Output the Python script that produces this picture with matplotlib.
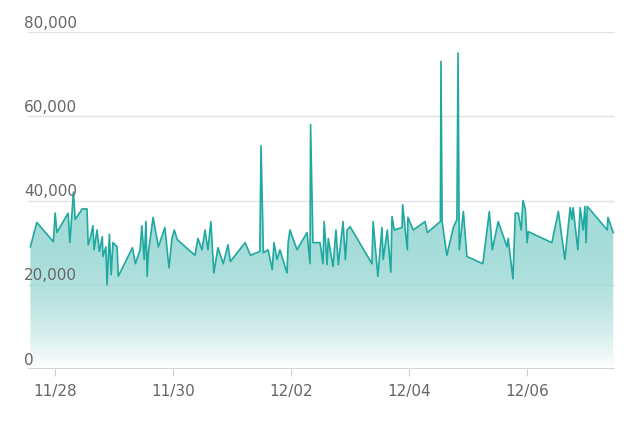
import matplotlib
matplotlib.use('Agg')
import matplotlib.pyplot as plt
import matplotlib.transforms as mtransforms
from matplotlib.patches import Polygon
import numpy as np

# days since 11/28 00:00, values
days = [-0.42, -0.31, -0.03, 0.00, 0.03, 0.22, 0.25, 0.31, 0.34, 0.46, 0.54, 0.56, 0.59, 0.64,
        0.66, 0.71, 0.75, 0.80, 0.81, 0.86, 0.88, 0.92, 0.95, 0.98, 1.05, 1.07, 1.31, 1.36,
        1.44, 1.47, 1.51, 1.54, 1.56, 1.58, 1.66, 1.75, 1.86, 1.93, 1.98, 2.02, 2.07, 2.37,
        2.42, 2.49, 2.54, 2.59, 2.64, 2.69, 2.76, 2.85, 2.93, 2.97, 3.22, 3.31, 3.47, 3.49,
        3.53, 3.61, 3.68, 3.71, 3.76, 3.81, 3.93, 3.95, 3.98, 4.10, 4.27, 4.32, 4.33, 4.37,
        4.49, 4.54, 4.56, 4.61, 4.63, 4.71, 4.76, 4.80, 4.86, 4.88, 4.92, 4.95, 5.00, 5.37,
        5.39, 5.47, 5.54, 5.56, 5.63, 5.69, 5.71, 5.75, 5.88, 5.89, 5.93, 5.97, 5.98, 6.07,
        6.27, 6.31, 6.53, 6.54, 6.56, 6.64, 6.75, 6.81, 6.83, 6.85, 6.92, 6.98, 7.25, 7.36,
        7.41, 7.51, 7.66, 7.68, 7.76, 7.80, 7.85, 7.90, 7.93, 7.97, 8.00, 8.02, 8.42, 8.53,
        8.64, 8.73, 8.76, 8.78, 8.86, 8.90, 8.95, 8.98, 9.00, 9.02, 9.36, 9.37, 9.46]
values = [29.0, 34.8, 30.2, 37.0, 32.4, 37.0, 30.0, 42.0, 35.5, 38.0, 38.0, 29.5, 30.7, 34.0,
          28.3, 33.0, 27.9, 31.4, 26.7, 29.0, 20.0, 32.0, 22.4, 30.0, 29.0, 22.0, 28.8, 25.0,
          28.3, 34.0, 26.0, 35.0, 22.0, 27.6, 36.0, 29.0, 33.6, 24.0, 31.0, 33.0, 30.7, 27.0,
          31.0, 28.3, 33.0, 28.3, 35.0, 22.8, 28.8, 25.0, 29.5, 25.5, 30.0, 27.0, 27.9, 53.0,
          27.6, 28.3, 23.6, 30.0, 26.0, 28.3, 22.8, 30.0, 33.0, 28.3, 32.4, 25.0, 58.0, 30.0,
          30.0, 25.0, 35.0, 24.8, 31.0, 24.3, 33.0, 24.8, 32.4, 35.0, 26.0, 33.0, 33.8, 25.0,
          35.0, 22.0, 33.6, 26.0, 33.0, 23.0, 36.2, 33.0, 33.6, 39.0, 33.6, 28.3, 36.0, 33.0,
          35.0, 32.4, 35.0, 73.0, 35.0, 27.0, 33.6, 35.5, 75.0, 28.3, 37.4, 26.7, 25.0, 37.4,
          28.3, 35.0, 29.0, 31.0, 21.4, 37.0, 37.0, 33.0, 40.0, 38.0, 30.0, 32.6, 30.0, 37.4,
          26.0, 38.3, 35.5, 38.3, 28.3, 38.3, 33.0, 38.6, 30.0, 38.6, 33.0, 36.0, 32.4]
yticks = [0, 20000, 40000, 60000, 80000]
xtick_days = [0, 2, 4, 6, 8]
xtick_labels = ['11/28', '11/30', '12/02', '12/04', '12/06']

x = np.array(days)
y = np.array(values) * 1000
color = '#1fa9a0'

fig = plt.figure(figsize=(6.4, 4.28), dpi=100)
ax = fig.add_axes([28/640, 59/428, 587/640, 337/428])
ax.set_xlim(-0.46, 9.49)
ax.set_ylim(0, 80000)

# gradient fill under the line
grad = np.linspace(0, 1, 256).reshape(-1, 1)
img = ax.imshow(grad, extent=[-0.46, 9.49, 0, 80000], origin='lower', aspect='auto',
                cmap=matplotlib.colors.LinearSegmentedColormap.from_list(
                    'g', [(1, 1, 1, 1), (0.12, 0.66, 0.63, 0.38), (0.12, 0.66, 0.63, 0.5)]),
                zorder=1)
poly = Polygon(np.column_stack([np.r_[x[0], x, x[-1]], np.r_[0, y, 0]]), closed=True,
               facecolor='none', edgecolor='none')
ax.add_patch(poly)
img.set_clip_path(poly)
ax.plot(x, y, color=color, lw=1.2, zorder=3)

for s in ax.spines.values():
    s.set_visible(False)
for t in yticks[1:]:
    ax.axhline(t, color='#e3e3e3', lw=1, zorder=0)
ax.axhline(0, color='#cccccc', lw=1.2, zorder=4)
ax.set_yticks([])
trans = mtransforms.offset_copy(ax.transData, fig=fig, x=-3, y=1, units='points')
for t in yticks:
    ax.text(-0.46, t, f'{t:,}', transform=trans, ha='left', va='bottom',
            fontsize=11, color='#666666')
ax.set_xticks(xtick_days)
ax.set_xticklabels(xtick_labels, fontsize=11, color='#666666')
ax.tick_params(axis='x', length=5, color='#cccccc', pad=6)

fig.savefig('out.png', dpi=100)
